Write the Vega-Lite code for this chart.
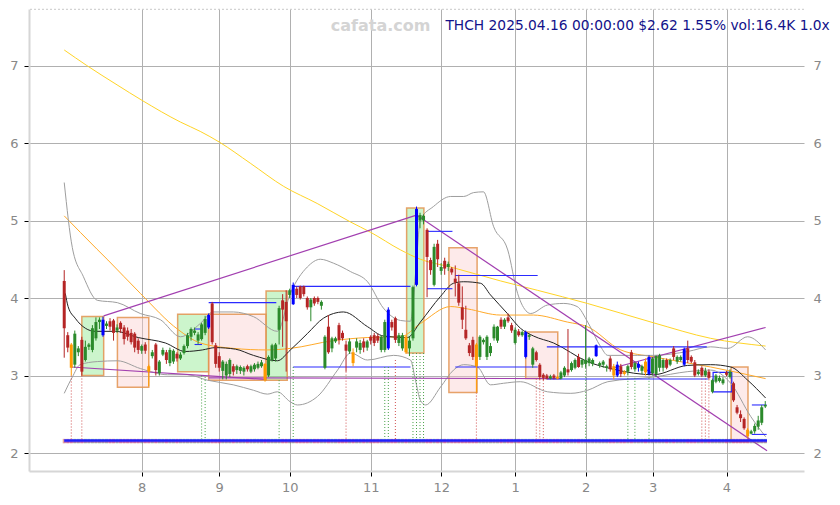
{
"$schema":"https://vega.github.io/schema/vega-lite/v6.json",
"width":775,"height":462,
"autosize":{"type":"none"},
"padding":{"left":29,"top":9,"right":36,"bottom":34},
"config":{"view":{"stroke":null},"font":"DejaVu Sans","scale":{"continuousPadding":0}},
"datasets":{
"candles":[
{"i":0,"o":4.22,"h":4.36,"l":3.23,"c":3.61,"k":"r"},
{"i":1,"o":3.52,"h":3.56,"l":3.30,"c":3.36,"k":"r"},
{"i":2,"o":3.40,"h":3.42,"l":3.00,"c":3.10,"k":"o"},
{"i":3,"o":3.14,"h":3.58,"l":3.10,"c":3.54,"k":"g"},
{"i":4,"o":3.30,"h":3.38,"l":3.25,"c":3.35,"k":"g"},
{"i":5,"o":3.46,"h":3.50,"l":3.00,"c":3.05,"k":"r"},
{"i":6,"o":3.20,"h":3.45,"l":3.18,"c":3.37,"k":"g"},
{"i":7,"o":3.37,"h":3.42,"l":3.33,"c":3.40,"k":"g"},
{"i":8,"o":3.33,"h":3.65,"l":3.30,"c":3.61,"k":"g"},
{"i":9,"o":3.48,"h":3.75,"l":3.45,"c":3.69,"k":"g"},
{"i":10,"o":3.69,"h":3.75,"l":3.60,"c":3.72,"k":"g"},
{"i":11,"o":3.72,"h":3.76,"l":3.50,"c":3.52,"k":"b"},
{"i":12,"o":3.64,"h":3.70,"l":3.60,"c":3.67,"k":"g"},
{"i":13,"o":3.70,"h":3.74,"l":3.58,"c":3.63,"k":"r"},
{"i":14,"o":3.71,"h":3.73,"l":3.45,"c":3.55,"k":"r"},
{"i":15,"o":3.58,"h":3.66,"l":3.55,"c":3.62,"k":"g"},
{"i":16,"o":3.68,"h":3.70,"l":3.55,"c":3.60,"k":"r"},
{"i":17,"o":3.62,"h":3.65,"l":3.40,"c":3.47,"k":"r"},
{"i":18,"o":3.58,"h":3.62,"l":3.45,"c":3.50,"k":"r"},
{"i":19,"o":3.55,"h":3.60,"l":3.40,"c":3.43,"k":"r"},
{"i":20,"o":3.54,"h":3.56,"l":3.30,"c":3.36,"k":"r"},
{"i":21,"o":3.45,"h":3.48,"l":3.28,"c":3.33,"k":"r"},
{"i":22,"o":3.32,"h":3.40,"l":3.28,"c":3.38,"k":"g"},
{"i":23,"o":3.40,"h":3.43,"l":3.28,"c":3.32,"k":"r"},
{"i":24,"o":3.12,"h":3.14,"l":2.86,"c":3.05,"k":"o"},
{"i":25,"o":3.25,"h":3.33,"l":3.22,"c":3.30,"k":"g"},
{"i":26,"o":3.40,"h":3.42,"l":3.00,"c":3.07,"k":"r"},
{"i":27,"o":3.03,"h":3.20,"l":3.00,"c":3.18,"k":"g"},
{"i":28,"o":3.27,"h":3.36,"l":3.25,"c":3.33,"k":"g"},
{"i":29,"o":3.30,"h":3.33,"l":3.15,"c":3.20,"k":"r"},
{"i":30,"o":3.16,"h":3.36,"l":3.12,"c":3.33,"k":"g"},
{"i":31,"o":3.18,"h":3.34,"l":3.15,"c":3.32,"k":"g"},
{"i":32,"o":3.28,"h":3.30,"l":3.18,"c":3.22,"k":"r"},
{"i":33,"o":3.22,"h":3.30,"l":3.20,"c":3.27,"k":"g"},
{"i":34,"o":3.29,"h":3.40,"l":3.27,"c":3.38,"k":"g"},
{"i":35,"o":3.38,"h":3.55,"l":3.35,"c":3.52,"k":"g"},
{"i":36,"o":3.50,"h":3.62,"l":3.45,"c":3.60,"k":"g"},
{"i":37,"o":3.55,"h":3.62,"l":3.52,"c":3.58,"k":"g"},
{"i":38,"o":3.45,"h":3.56,"l":3.40,"c":3.53,"k":"g"},
{"i":39,"o":3.47,"h":3.68,"l":3.45,"c":3.66,"k":"g"},
{"i":40,"o":3.55,"h":3.77,"l":3.52,"c":3.73,"k":"g"},
{"i":41,"o":3.62,"h":3.80,"l":3.60,"c":3.78,"k":"b"},
{"i":42,"o":3.93,"h":3.95,"l":3.40,"c":3.43,"k":"r"},
{"i":43,"o":3.39,"h":3.42,"l":3.10,"c":3.15,"k":"r"},
{"i":44,"o":3.25,"h":3.30,"l":3.05,"c":3.10,"k":"r"},
{"i":45,"o":3.06,"h":3.20,"l":2.95,"c":3.18,"k":"g"},
{"i":46,"o":3.00,"h":3.18,"l":2.95,"c":3.15,"k":"g"},
{"i":47,"o":3.02,"h":3.22,"l":2.98,"c":3.20,"k":"g"},
{"i":48,"o":3.12,"h":3.15,"l":3.00,"c":3.05,"k":"r"},
{"i":49,"o":3.07,"h":3.14,"l":3.02,"c":3.12,"k":"g"},
{"i":50,"o":3.06,"h":3.13,"l":3.02,"c":3.11,"k":"g"},
{"i":51,"o":3.05,"h":3.12,"l":3.00,"c":3.10,"k":"g"},
{"i":52,"o":3.12,"h":3.14,"l":3.05,"c":3.08,"k":"r"},
{"i":53,"o":3.05,"h":3.14,"l":3.03,"c":3.12,"k":"g"},
{"i":54,"o":3.08,"h":3.16,"l":3.05,"c":3.14,"k":"g"},
{"i":55,"o":3.10,"h":3.18,"l":3.08,"c":3.15,"k":"g"},
{"i":56,"o":3.12,"h":3.20,"l":3.10,"c":3.17,"k":"g"},
{"i":57,"o":3.15,"h":3.16,"l":2.92,"c":2.94,"k":"o"},
{"i":58,"o":3.00,"h":3.26,"l":2.98,"c":3.24,"k":"g"},
{"i":59,"o":3.20,"h":3.41,"l":3.18,"c":3.39,"k":"g"},
{"i":60,"o":3.22,"h":3.42,"l":3.18,"c":3.40,"k":"g"},
{"i":61,"o":3.59,"h":3.90,"l":3.40,"c":3.87,"k":"g"},
{"i":62,"o":3.97,"h":4.05,"l":3.37,"c":3.85,"k":"r"},
{"i":63,"o":3.95,"h":4.10,"l":3.05,"c":3.70,"k":"r"},
{"i":64,"o":4.04,"h":4.12,"l":4.00,"c":4.10,"k":"g"},
{"i":65,"o":4.17,"h":4.20,"l":3.91,"c":3.92,"k":"b"},
{"i":66,"o":4.12,"h":4.15,"l":4.00,"c":4.04,"k":"r"},
{"i":67,"o":4.15,"h":4.16,"l":3.98,"c":4.00,"k":"r"},
{"i":68,"o":4.15,"h":4.16,"l":4.02,"c":4.05,"k":"r"},
{"i":69,"o":4.00,"h":4.02,"l":3.85,"c":3.88,"k":"r"},
{"i":70,"o":3.88,"h":4.00,"l":3.70,"c":3.98,"k":"g"},
{"i":71,"o":4.00,"h":4.02,"l":3.90,"c":3.93,"k":"r"},
{"i":72,"o":4.00,"h":4.02,"l":3.92,"c":3.95,"k":"r"},
{"i":73,"o":3.90,"h":3.97,"l":3.85,"c":3.95,"k":"g"},
{"i":74,"o":3.10,"h":3.52,"l":3.08,"c":3.50,"k":"g"},
{"i":75,"o":3.63,"h":3.78,"l":3.28,"c":3.30,"k":"r"},
{"i":76,"o":3.35,"h":3.50,"l":3.30,"c":3.48,"k":"g"},
{"i":77,"o":3.44,"h":3.50,"l":3.42,"c":3.48,"k":"g"},
{"i":78,"o":3.65,"h":3.68,"l":3.40,"c":3.46,"k":"r"},
{"i":79,"o":3.55,"h":3.58,"l":3.45,"c":3.48,"k":"r"},
{"i":80,"o":3.40,"h":3.45,"l":3.05,"c":3.32,"k":"r"},
{"i":81,"o":3.31,"h":3.48,"l":3.28,"c":3.44,"k":"g"},
{"i":82,"o":3.30,"h":3.35,"l":3.12,"c":3.16,"k":"o"},
{"i":83,"o":3.36,"h":3.48,"l":3.30,"c":3.44,"k":"g"},
{"i":84,"o":3.33,"h":3.46,"l":3.28,"c":3.42,"k":"g"},
{"i":85,"o":3.44,"h":3.48,"l":3.30,"c":3.36,"k":"r"},
{"i":86,"o":3.36,"h":3.46,"l":3.32,"c":3.44,"k":"g"},
{"i":87,"o":3.50,"h":3.52,"l":3.40,"c":3.45,"k":"r"},
{"i":88,"o":3.52,"h":3.55,"l":3.38,"c":3.42,"k":"r"},
{"i":89,"o":3.51,"h":3.54,"l":3.42,"c":3.45,"k":"r"},
{"i":90,"o":3.33,"h":3.52,"l":3.30,"c":3.50,"k":"g"},
{"i":91,"o":3.33,"h":3.72,"l":3.30,"c":3.69,"k":"g"},
{"i":92,"o":3.85,"h":3.88,"l":3.33,"c":3.35,"k":"b"},
{"i":93,"o":3.69,"h":3.72,"l":3.58,"c":3.62,"k":"r"},
{"i":94,"o":3.74,"h":3.76,"l":3.42,"c":3.46,"k":"r"},
{"i":95,"o":3.42,"h":3.55,"l":3.38,"c":3.52,"k":"g"},
{"i":96,"o":3.35,"h":3.55,"l":3.32,"c":3.52,"k":"g"},
{"i":97,"o":3.50,"h":3.52,"l":3.28,"c":3.30,"k":"o"},
{"i":98,"o":3.35,"h":3.50,"l":3.25,"c":3.45,"k":"g"},
{"i":99,"o":3.48,"h":4.16,"l":3.45,"c":4.14,"k":"g"},
{"i":100,"o":4.17,"h":5.18,"l":4.15,"c":5.15,"k":"b"},
{"i":101,"o":5.00,"h":5.10,"l":4.90,"c":5.07,"k":"g"},
{"i":102,"o":5.00,"h":5.08,"l":4.95,"c":5.06,"k":"g"},
{"i":103,"o":4.88,"h":4.90,"l":4.01,"c":4.53,"k":"r"},
{"i":104,"o":4.49,"h":4.52,"l":4.30,"c":4.36,"k":"r"},
{"i":105,"o":4.17,"h":4.70,"l":4.15,"c":4.66,"k":"g"},
{"i":106,"o":4.70,"h":4.75,"l":4.40,"c":4.50,"k":"r"},
{"i":107,"o":4.35,"h":4.45,"l":4.30,"c":4.40,"k":"g"},
{"i":108,"o":4.48,"h":4.52,"l":4.30,"c":4.38,"k":"r"},
{"i":109,"o":4.40,"h":4.47,"l":4.35,"c":4.44,"k":"g"},
{"i":110,"o":4.38,"h":4.40,"l":4.30,"c":4.33,"k":"r"},
{"i":111,"o":4.25,"h":4.42,"l":4.02,"c":4.20,"k":"r"},
{"i":112,"o":4.19,"h":4.30,"l":3.90,"c":3.94,"k":"r"},
{"i":113,"o":3.88,"h":4.15,"l":3.60,"c":3.72,"k":"r"},
{"i":114,"o":3.59,"h":3.90,"l":3.46,"c":3.48,"k":"r"},
{"i":115,"o":3.39,"h":3.42,"l":3.25,"c":3.29,"k":"r"},
{"i":116,"o":3.46,"h":3.50,"l":3.20,"c":3.24,"k":"r"},
{"i":117,"o":3.40,"h":3.42,"l":2.78,"c":3.12,"k":"o"},
{"i":118,"o":3.24,"h":3.52,"l":3.20,"c":3.50,"k":"g"},
{"i":119,"o":3.43,"h":3.48,"l":3.40,"c":3.46,"k":"g"},
{"i":120,"o":3.24,"h":3.52,"l":3.20,"c":3.50,"k":"g"},
{"i":121,"o":3.29,"h":3.42,"l":3.25,"c":3.38,"k":"g"},
{"i":122,"o":3.48,"h":3.66,"l":3.45,"c":3.63,"k":"g"},
{"i":123,"o":3.45,"h":3.64,"l":3.42,"c":3.63,"k":"g"},
{"i":124,"o":3.72,"h":3.75,"l":3.60,"c":3.63,"k":"r"},
{"i":125,"o":3.63,"h":3.74,"l":3.60,"c":3.72,"k":"g"},
{"i":126,"o":3.75,"h":3.80,"l":3.68,"c":3.70,"k":"r"},
{"i":127,"o":3.65,"h":3.68,"l":3.55,"c":3.58,"k":"r"},
{"i":128,"o":3.42,"h":3.62,"l":3.40,"c":3.59,"k":"g"},
{"i":129,"o":3.57,"h":3.60,"l":3.50,"c":3.52,"k":"r"},
{"i":130,"o":3.52,"h":3.58,"l":3.50,"c":3.56,"k":"g"},
{"i":131,"o":3.56,"h":3.58,"l":3.22,"c":3.24,"k":"b"},
{"i":132,"o":3.50,"h":3.54,"l":3.46,"c":3.52,"k":"g"},
{"i":133,"o":3.14,"h":3.37,"l":3.10,"c":3.35,"k":"g"},
{"i":134,"o":3.30,"h":3.32,"l":3.18,"c":3.20,"k":"r"},
{"i":135,"o":3.14,"h":3.16,"l":2.95,"c":2.98,"k":"r"},
{"i":136,"o":3.01,"h":3.03,"l":2.94,"c":2.97,"k":"r"},
{"i":137,"o":3.00,"h":3.02,"l":2.95,"c":2.96,"k":"r"},
{"i":138,"o":2.96,"h":3.01,"l":2.95,"c":2.99,"k":"g"},
{"i":139,"o":3.00,"h":3.02,"l":2.95,"c":2.97,"k":"r"},
{"i":140,"o":2.98,"h":3.00,"l":2.95,"c":2.96,"k":"o"},
{"i":141,"o":2.96,"h":3.06,"l":2.95,"c":3.04,"k":"g"},
{"i":142,"o":3.00,"h":3.12,"l":2.98,"c":3.10,"k":"g"},
{"i":143,"o":3.08,"h":3.60,"l":3.00,"c":3.04,"k":"r"},
{"i":144,"o":3.07,"h":3.18,"l":3.05,"c":3.16,"k":"g"},
{"i":145,"o":3.10,"h":3.22,"l":3.08,"c":3.20,"k":"g"},
{"i":146,"o":3.24,"h":3.28,"l":3.10,"c":3.11,"k":"r"},
{"i":147,"o":3.14,"h":3.22,"l":3.10,"c":3.20,"k":"g"},
{"i":148,"o":3.15,"h":3.65,"l":3.10,"c":3.20,"k":"g"},
{"i":149,"o":3.16,"h":3.24,"l":3.12,"c":3.22,"k":"g"},
{"i":150,"o":3.15,"h":3.22,"l":3.12,"c":3.20,"k":"g"},
{"i":151,"o":3.39,"h":3.40,"l":3.24,"c":3.25,"k":"b"},
{"i":152,"o":3.13,"h":3.18,"l":3.10,"c":3.16,"k":"g"},
{"i":153,"o":3.14,"h":3.20,"l":3.10,"c":3.18,"k":"g"},
{"i":154,"o":3.10,"h":3.14,"l":3.05,"c":3.12,"k":"g"},
{"i":155,"o":3.22,"h":3.25,"l":3.05,"c":3.08,"k":"r"},
{"i":156,"o":3.12,"h":3.15,"l":2.95,"c":3.00,"k":"o"},
{"i":157,"o":3.14,"h":3.18,"l":2.98,"c":3.00,"k":"b"},
{"i":158,"o":3.12,"h":3.15,"l":2.98,"c":3.02,"k":"r"},
{"i":159,"o":3.05,"h":3.07,"l":3.00,"c":3.02,"k":"o"},
{"i":160,"o":3.05,"h":3.14,"l":3.00,"c":3.12,"k":"g"},
{"i":161,"o":3.30,"h":3.33,"l":3.08,"c":3.11,"k":"r"},
{"i":162,"o":3.08,"h":3.18,"l":3.05,"c":3.16,"k":"g"},
{"i":163,"o":3.10,"h":3.18,"l":3.05,"c":3.15,"k":"b"},
{"i":164,"o":3.06,"h":3.14,"l":3.02,"c":3.12,"k":"g"},
{"i":165,"o":3.18,"h":3.22,"l":3.00,"c":3.04,"k":"o"},
{"i":166,"o":3.24,"h":3.26,"l":3.00,"c":3.02,"k":"b"},
{"i":167,"o":3.03,"h":3.24,"l":3.00,"c":3.22,"k":"g"},
{"i":168,"o":3.02,"h":3.26,"l":2.98,"c":3.25,"k":"g"},
{"i":169,"o":3.10,"h":3.28,"l":3.05,"c":3.26,"k":"g"},
{"i":170,"o":3.10,"h":3.22,"l":3.05,"c":3.20,"k":"g"},
{"i":171,"o":3.20,"h":3.22,"l":3.08,"c":3.10,"k":"r"},
{"i":172,"o":3.14,"h":3.22,"l":3.12,"c":3.20,"k":"g"},
{"i":173,"o":3.35,"h":3.38,"l":3.20,"c":3.24,"k":"r"},
{"i":174,"o":3.18,"h":3.26,"l":3.15,"c":3.24,"k":"g"},
{"i":175,"o":3.20,"h":3.26,"l":3.18,"c":3.24,"k":"g"},
{"i":176,"o":3.34,"h":3.36,"l":3.12,"c":3.14,"k":"b"},
{"i":177,"o":3.35,"h":3.45,"l":3.16,"c":3.20,"k":"r"},
{"i":178,"o":3.24,"h":3.26,"l":3.16,"c":3.18,"k":"r"},
{"i":179,"o":3.17,"h":3.20,"l":2.98,"c":3.00,"k":"r"},
{"i":180,"o":3.02,"h":3.08,"l":3.00,"c":3.05,"k":"g"},
{"i":181,"o":3.10,"h":3.12,"l":2.98,"c":3.00,"k":"r"},
{"i":182,"o":3.00,"h":3.10,"l":2.98,"c":3.06,"k":"g"},
{"i":183,"o":3.05,"h":3.08,"l":2.95,"c":2.97,"k":"r"},
{"i":184,"o":2.79,"h":2.96,"l":2.77,"c":2.94,"k":"g"},
{"i":185,"o":2.92,"h":3.02,"l":2.90,"c":3.00,"k":"g"},
{"i":186,"o":2.93,"h":3.00,"l":2.91,"c":2.97,"k":"g"},
{"i":187,"o":2.90,"h":2.98,"l":2.88,"c":2.95,"k":"g"},
{"i":188,"o":3.04,"h":3.06,"l":2.99,"c":3.01,"k":"r"},
{"i":189,"o":2.98,"h":3.08,"l":2.96,"c":3.05,"k":"g"},
{"i":190,"o":2.90,"h":2.92,"l":2.66,"c":2.68,"k":"r"},
{"i":191,"o":2.59,"h":2.62,"l":2.50,"c":2.52,"k":"r"},
{"i":192,"o":2.50,"h":2.55,"l":2.40,"c":2.45,"k":"r"},
{"i":193,"o":2.44,"h":2.46,"l":2.30,"c":2.32,"k":"r"},
{"i":194,"o":2.30,"h":2.32,"l":2.20,"c":2.22,"k":"o"},
{"i":195,"o":2.25,"h":2.30,"l":2.24,"c":2.28,"k":"g"},
{"i":196,"o":2.28,"h":2.38,"l":2.25,"c":2.35,"k":"g"},
{"i":197,"o":2.34,"h":2.48,"l":2.30,"c":2.42,"k":"g"},
{"i":198,"o":2.39,"h":2.62,"l":2.36,"c":2.59,"k":"g"},
{"i":199,"o":2.60,"h":2.67,"l":2.58,"c":2.62,"k":"g"}
],
"lines":[
{"s":"y","i":0,"v":7.20},{"s":"y","i":6.4,"v":7.00},{"s":"y","i":15,"v":6.75},{"s":"y","i":22.1,"v":6.55},{"s":"y","i":33,"v":6.27},{"s":"y","i":38.6,"v":6.15},{"s":"y","i":44.1,"v":6.01},{"s":"y","i":52.8,"v":5.74},{"s":"y","i":62.3,"v":5.44},{"s":"y","i":71.8,"v":5.22},{"s":"y","i":81.3,"v":4.98},{"s":"y","i":86.9,"v":4.85},{"s":"y","i":95.5,"v":4.62},{"s":"y","i":101.1,"v":4.50},{"s":"y","i":109.7,"v":4.40},{"s":"y","i":123.9,"v":4.22},{"s":"y","i":134.3,"v":4.10},{"s":"y","i":148.5,"v":3.93},{"s":"y","i":167.3,"v":3.68},{"s":"y","i":183.5,"v":3.48},{"s":"y","i":199.1,"v":3.38},
{"s":"o","i":0,"v":5.06},{"s":"o","i":9.3,"v":4.63},{"s":"o","i":12.4,"v":4.49},{"s":"o","i":21.6,"v":4.06},{"s":"o","i":32.4,"v":3.59},{"s":"o","i":38.6,"v":3.42},{"s":"o","i":48,"v":3.35},{"s":"o","i":57.6,"v":3.33},{"s":"o","i":64.2,"v":3.35},{"s":"o","i":76.4,"v":3.45},{"s":"o","i":86,"v":3.49},{"s":"o","i":95.5,"v":3.50},{"s":"o","i":101.1,"v":3.67},{"s":"o","i":109.7,"v":3.89},{"s":"o","i":114.4,"v":3.86},{"s":"o","i":123.9,"v":3.78},{"s":"o","i":133.2,"v":3.78},{"s":"o","i":142.8,"v":3.69},{"s":"o","i":148.5,"v":3.63},{"s":"o","i":158,"v":3.33},{"s":"o","i":167.3,"v":3.24},{"s":"o","i":183.5,"v":3.11},{"s":"o","i":199.1,"v":2.96},
{"s":"k","i":0.3,"v":4.06},{"s":"k","i":1.1,"v":3.89},{"s":"k","i":3.1,"v":3.74},{"s":"k","i":6,"v":3.61},{"s":"k","i":8.8,"v":3.57},{"s":"k","i":14.5,"v":3.57},{"s":"k","i":21,"v":3.49},{"s":"k","i":28.7,"v":3.42},{"s":"k","i":34.4,"v":3.31},{"s":"k","i":39.2,"v":3.33},{"s":"k","i":42.9,"v":3.36},{"s":"k","i":48.6,"v":3.34},{"s":"k","i":53.7,"v":3.26},{"s":"k","i":60.5,"v":3.19},{"s":"k","i":64.2,"v":3.33},{"s":"k","i":69,"v":3.54},{"s":"k","i":73.6,"v":3.74},{"s":"k","i":79.3,"v":3.82},{"s":"k","i":86.1,"v":3.63},{"s":"k","i":90.6,"v":3.51},{"s":"k","i":97.4,"v":3.49},{"s":"k","i":101.1,"v":3.69},{"s":"k","i":106.8,"v":4.02},{"s":"k","i":110.5,"v":4.19},{"s":"k","i":113.4,"v":4.21},{"s":"k","i":118.2,"v":4.19},{"s":"k","i":121,"v":4.04},{"s":"k","i":125.8,"v":3.80},{"s":"k","i":129.5,"v":3.61},{"s":"k","i":133.2,"v":3.51},{"s":"k","i":138.9,"v":3.42},{"s":"k","i":148.5,"v":3.18},{"s":"k","i":156,"v":3.08},{"s":"k","i":167.3,"v":3.01},{"s":"k","i":176.9,"v":3.13},{"s":"k","i":183.5,"v":3.14},{"s":"k","i":189.2,"v":3.11},{"s":"k","i":194,"v":2.94},{"s":"k","i":199.1,"v":2.71},
{"s":"bu","i":0,"v":5.49},{"s":"bu","i":2.3,"v":4.65},{"s":"bu","i":5.4,"v":4.28},{"s":"bu","i":9.4,"v":3.97},{"s":"bu","i":15.1,"v":3.94},{"s":"bu","i":21.6,"v":3.80},{"s":"bu","i":27.3,"v":3.72},{"s":"bu","i":33,"v":3.50},{"s":"bu","i":38.6,"v":3.67},{"s":"bu","i":42.3,"v":3.82},{"s":"bu","i":48,"v":3.82},{"s":"bu","i":53.7,"v":3.76},{"s":"bu","i":60.5,"v":3.57},{"s":"bu","i":64.2,"v":4.06},{"s":"bu","i":69,"v":4.40},{"s":"bu","i":72.7,"v":4.50},{"s":"bu","i":76.4,"v":4.45},{"s":"bu","i":81.3,"v":4.34},{"s":"bu","i":86.1,"v":4.21},{"s":"bu","i":90.6,"v":3.87},{"s":"bu","i":95.5,"v":3.71},{"s":"bu","i":98.3,"v":3.70},{"s":"bu","i":99.7,"v":4.30},{"s":"bu","i":101.1,"v":5.01},{"s":"bu","i":104.8,"v":5.18},{"s":"bu","i":109.7,"v":5.31},{"s":"bu","i":113.4,"v":5.31},{"s":"bu","i":116.2,"v":5.36},{"s":"bu","i":119,"v":5.37},{"s":"bu","i":121.9,"v":4.92},{"s":"bu","i":125.9,"v":4.62},{"s":"bu","i":128.7,"v":4.06},{"s":"bu","i":131.4,"v":3.82},{"s":"bu","i":132.4,"v":3.80},{"s":"bu","i":137.2,"v":3.91},{"s":"bu","i":141.8,"v":3.93},{"s":"bu","i":145.6,"v":3.89},{"s":"bu","i":148.6,"v":3.69},{"s":"bu","i":152.3,"v":3.37},{"s":"bu","i":154.3,"v":3.26},{"s":"bu","i":162.8,"v":3.26},{"s":"bu","i":167.3,"v":3.26},{"s":"bu","i":177,"v":3.31},{"s":"bu","i":183.5,"v":3.37},{"s":"bu","i":188.4,"v":3.35},{"s":"bu","i":194,"v":3.50},{"s":"bu","i":199.1,"v":3.33},
{"s":"bl","i":0,"v":2.77},{"s":"bl","i":2.3,"v":2.98},{"s":"bl","i":4.5,"v":3.14},{"s":"bl","i":9.4,"v":3.18},{"s":"bl","i":15.1,"v":3.19},{"s":"bl","i":21.6,"v":3.09},{"s":"bl","i":29.3,"v":3.01},{"s":"bl","i":34.9,"v":3.01},{"s":"bl","i":40.6,"v":2.94},{"s":"bl","i":48,"v":2.88},{"s":"bl","i":53.7,"v":2.81},{"s":"bl","i":57.7,"v":2.76},{"s":"bl","i":60.5,"v":2.79},{"s":"bl","i":64.2,"v":2.66},{"s":"bl","i":66.2,"v":2.62},{"s":"bl","i":71.9,"v":2.73},{"s":"bl","i":77.6,"v":3.07},{"s":"bl","i":81.3,"v":3.29},{"s":"bl","i":86.1,"v":3.20},{"s":"bl","i":93.5,"v":3.26},{"s":"bl","i":98.3,"v":3.20},{"s":"bl","i":99.7,"v":2.94},{"s":"bl","i":101.1,"v":2.68},{"s":"bl","i":102.6,"v":2.62},{"s":"bl","i":106.8,"v":2.85},{"s":"bl","i":110.5,"v":3.07},{"s":"bl","i":113.4,"v":3.14},{"s":"bl","i":117.3,"v":3.11},{"s":"bl","i":121,"v":2.88},{"s":"bl","i":124.7,"v":2.90},{"s":"bl","i":129.5,"v":2.92},{"s":"bl","i":137.2,"v":2.79},{"s":"bl","i":143.8,"v":2.77},{"s":"bl","i":148.6,"v":2.81},{"s":"bl","i":154.3,"v":2.92},{"s":"bl","i":167.3,"v":2.98},{"s":"bl","i":177,"v":3.05},{"s":"bl","i":183.5,"v":3.07},{"s":"bl","i":189.2,"v":2.90},{"s":"bl","i":194.9,"v":2.47},{"s":"bl","i":199.1,"v":2.21}
],
"segs":[
{"t":"trend","i1":11.2,"i2":100,"p1":3.77,"p2":5.07},
{"t":"trend","i1":100,"i2":199.5,"p1":5.07,"p2":2.03},
{"t":"trend","i1":2,"i2":57,"p1":3.11,"p2":2.95},
{"t":"trend","i1":41,"i2":141,"p1":2.97,"p2":2.96},
{"t":"trend","i1":156,"i2":199.1,"p1":3.10,"p2":3.62},
{"t":"level","i1":41,"i2":60.2,"p1":3.94,"p2":3.94},
{"t":"level","i1":65,"i2":98.3,"p1":4.15,"p2":4.15},
{"t":"level","i1":65,"i2":98.3,"p1":3.11,"p2":3.11},
{"t":"level","i1":103,"i2":110.2,"p1":4.86,"p2":4.86},
{"t":"level","i1":103,"i2":110.2,"p1":4.12,"p2":4.12},
{"t":"level","i1":111,"i2":134.4,"p1":4.29,"p2":4.29},
{"t":"level","i1":111,"i2":134.4,"p1":3.11,"p2":3.11},
{"t":"level","i1":137,"i2":182.4,"p1":3.37,"p2":3.37},
{"t":"level","i1":137,"i2":182.7,"p1":2.955,"p2":2.955},
{"t":"level","i1":195.2,"i2":199.4,"p1":2.62,"p2":2.62},
{"t":"level","i1":195.2,"i2":199.4,"p1":2.24,"p2":2.24},
{"t":"level","i1":37,"i2":39.1,"p1":3.60,"p2":3.60},
{"t":"level","i1":37,"i2":39.1,"p1":3.40,"p2":3.40},
{"t":"basep","i1":0,"i2":199.5,"p1":2.142,"p2":2.142},
{"t":"base","i1":0,"i2":199.5,"p1":2.161,"p2":2.161}
],
"boxes":[
{"f":"g","i1":5.0,"i2":11.2,"p1":3.0,"p2":3.76},
{"f":"r","i1":15.1,"i2":24,"p1":2.85,"p2":3.75},
{"f":"g","i1":32.2,"i2":41,"p1":3.05,"p2":3.79},
{"f":"r","i1":41,"i2":57.3,"p1":2.94,"p2":3.79},
{"f":"g","i1":57.3,"i2":63.3,"p1":2.94,"p2":4.09},
{"f":"g","i1":97.2,"i2":102.1,"p1":3.29,"p2":5.16},
{"f":"r","i1":109.2,"i2":117.2,"p1":2.78,"p2":4.65},
{"f":"r","i1":131,"i2":140.1,"p1":2.96,"p2":3.56},
{"f":"r","i1":189.3,"i2":194.1,"p1":2.15,"p2":3.11}
],
"bluebox":[{"i1":184.2,"i2":189.5,"p1":2.79,"p2":3.04}],
"dots":[
{"i":2,"p":3.00,"c":"r"},{"i":5,"p":3.00,"c":"r"},{"i":39,"p":3.00,"c":"g"},{"i":40,"p":2.98,"c":"g"},{"i":61,"p":2.94,"c":"g"},{"i":65,"p":3.11,"c":"g"},{"i":80,"p":3.05,"c":"r"},{"i":91,"p":3.11,"c":"g"},{"i":92,"p":3.11,"c":"g"},{"i":94,"p":3.20,"c":"r"},{"i":99,"p":3.29,"c":"g"},{"i":100,"p":3.29,"c":"g"},{"i":101,"p":3.29,"c":"g"},{"i":102,"p":3.29,"c":"g"},{"i":117,"p":2.78,"c":"r"},{"i":134,"p":2.96,"c":"r"},{"i":135,"p":2.95,"c":"r"},{"i":136,"p":2.94,"c":"r"},{"i":148,"p":3.10,"c":"g"},{"i":160,"p":2.97,"c":"g"},{"i":162,"p":2.97,"c":"g"},{"i":166,"p":2.97,"c":"g"},{"i":181,"p":2.96,"c":"r"},{"i":182,"p":2.96,"c":"r"},{"i":183,"p":2.95,"c":"r"}
]
},
"resolve":{"axis":{"x":"independent","y":"independent"},"scale":{"color":"independent"}},
"layer":[
{"data":{"name":"boxes"},
 "mark":{"type":"rect","fillOpacity":0.4,"stroke":"#e39350","strokeOpacity":0.85,"strokeWidth":1.5},
 "encoding":{
  "x":{"field":"i1","type":"quantitative","scale":{"domain":[-10,210],"nice":false,"zero":false,"padding":0},"axis":null},
  "x2":{"field":"i2"},
  "y":{"field":"p1","type":"quantitative","scale":{"domain":[1.768,7.729],"nice":false,"zero":false,"padding":0},"axis":null},
  "y2":{"field":"p2"},
  "fill":{"field":"f","type":"nominal","scale":{"domain":["g","r"],"range":["#7fe67f","#facaca"]},"legend":null}}},
{"data":{"name":"bluebox"},
 "mark":{"type":"rect","fill":null,"stroke":"#2020ff","strokeWidth":1.2},
 "encoding":{
  "x":{"field":"i1","type":"quantitative","scale":{"domain":[-10,210],"nice":false,"zero":false,"padding":0},"axis":null},
  "x2":{"field":"i2"},
  "y":{"field":"p1","type":"quantitative","scale":{"domain":[1.768,7.729],"nice":false,"zero":false,"padding":0},"axis":null},
  "y2":{"field":"p2"}}},
{"data":{"name":"lines"},
 "mark":{"type":"line","strokeWidth":1,"interpolate":"monotone"},
 "encoding":{
  "x":{"field":"i","type":"quantitative","scale":{"domain":[-10,210],"nice":false,"zero":false,"padding":0},"axis":null},
  "y":{"field":"v","type":"quantitative","scale":{"domain":[1.768,7.729],"nice":false,"zero":false,"padding":0},"axis":null},
  "color":{"field":"s","type":"nominal","scale":{"domain":["bu","bl","y","o","k"],"range":["#9e9e9e","#9e9e9e","#ffd426","#ffaa2a","#222222"]},"legend":null}}},
{"data":{"name":"segs"},
 "transform":[{"filter":"datum.t=='trend'"}],
 "mark":{"type":"rule","color":"#a23fb0","strokeWidth":1.2},
 "encoding":{
  "x":{"field":"i1","type":"quantitative","scale":{"domain":[-10,210],"nice":false,"zero":false,"padding":0},"axis":null},
  "x2":{"field":"i2"},
  "y":{"field":"p1","type":"quantitative","scale":{"domain":[1.768,7.729],"nice":false,"zero":false,"padding":0},"axis":null},
  "y2":{"field":"p2"}}},
{"data":{"name":"segs"},
 "transform":[{"filter":"datum.t=='level'"}],
 "mark":{"type":"rule","color":"#2b2bff","strokeWidth":1.1},
 "encoding":{
  "x":{"field":"i1","type":"quantitative","scale":{"domain":[-10,210],"nice":false,"zero":false,"padding":0},"axis":null},
  "x2":{"field":"i2"},
  "y":{"field":"p1","type":"quantitative","scale":{"domain":[1.768,7.729],"nice":false,"zero":false,"padding":0},"axis":null}}},
{"data":{"name":"candles"},
 "mark":{"type":"bar","size":3,"opacity":0.45},
 "encoding":{
  "x":{"field":"i","type":"quantitative","scale":{"domain":[-10,210],"nice":false,"zero":false,"padding":0},"axis":null},
  "y":{"datum":2.125,"type":"quantitative","scale":{"domain":[1.768,7.729],"nice":false,"zero":false,"padding":0},"axis":null},
  "y2":{"datum":2.183},
  "color":{"field":"k","type":"nominal","scale":{"domain":["g","r","o","b"],"range":["#3a9a3a","#c03030","#c03030","#3a9a3a"]},"legend":null}}},
{"data":{"name":"segs"},
 "transform":[{"filter":"datum.t=='basep'"}],
 "mark":{"type":"rule","color":"#a23fb0","strokeWidth":1.5,"opacity":0.7},
 "encoding":{
  "x":{"field":"i1","type":"quantitative","scale":{"domain":[-10,210],"nice":false,"zero":false,"padding":0},"axis":null},
  "x2":{"field":"i2"},
  "y":{"field":"p1","type":"quantitative","scale":{"domain":[1.768,7.729],"nice":false,"zero":false,"padding":0},"axis":null}}},
{"data":{"name":"segs"},
 "transform":[{"filter":"datum.t=='base'"}],
 "mark":{"type":"rule","color":"#2020ff","strokeWidth":2.5},
 "encoding":{
  "x":{"field":"i1","type":"quantitative","scale":{"domain":[-10,210],"nice":false,"zero":false,"padding":0},"axis":null},
  "x2":{"field":"i2"},
  "y":{"field":"p1","type":"quantitative","scale":{"domain":[1.768,7.729],"nice":false,"zero":false,"padding":0},"axis":null}}},
{"data":{"name":"dots"},
 "mark":{"type":"rule","strokeWidth":1,"strokeDash":[1,2]},
 "encoding":{
  "x":{"field":"i","type":"quantitative","scale":{"domain":[-10,210],"nice":false,"zero":false,"padding":0},"axis":null},
  "y":{"field":"p","type":"quantitative","scale":{"domain":[1.768,7.729],"nice":false,"zero":false,"padding":0},"axis":null},
  "y2":{"datum":2.18},
  "color":{"field":"c","type":"nominal","scale":{"domain":["r","g"],"range":["#d05050","#45a045"]},"legend":null}}},
{"data":{"name":"candles"},
 "mark":{"type":"rule","strokeWidth":1},
 "encoding":{
  "x":{"field":"i","type":"quantitative","scale":{"domain":[-10,210],"nice":false,"zero":false,"padding":0},
   "axis":{"title":null,"values":[22,44,64,87,107,128,148,167,188],
    "labelExpr":"datum.value==22?'8':datum.value==44?'9':datum.value==64?'10':datum.value==87?'11':datum.value==107?'12':datum.value==128?'1':datum.value==148?'2':datum.value==167?'3':'4'",
    "grid":true,"gridColor":"#b0b0b0","gridWidth":1,"domain":true,"domainColor":"#d6d6d6","domainWidth":2,
    "ticks":true,"tickColor":"#000000","tickSize":5,"labelColor":"#888888","labelFontSize":13,"labelFont":"DejaVu Sans","labelPadding":5}},
  "y":{"field":"l","type":"quantitative","scale":{"domain":[1.768,7.729],"nice":false,"zero":false,"padding":0},
   "axis":{"title":null,"orient":"left","values":[2,3,4,5,6,7],
    "grid":true,"gridColor":"#b0b0b0","gridWidth":1,"domain":true,"domainColor":"#d6d6d6","domainWidth":2,
    "ticks":true,"tickColor":"#000000","tickSize":5,"labelColor":"#888888","labelFontSize":13,"labelFont":"DejaVu Sans","labelPadding":6}},
  "y2":{"field":"h"},
  "color":{"field":"k","type":"nominal","scale":{"domain":["g","r","o","b"],"range":["#2b8a2b","#b52525","#ff9a00","#0000ff"]},"legend":null}}},
{"data":{"name":"candles"},
 "mark":{"type":"bar","size":3},
 "encoding":{
  "x":{"field":"i","type":"quantitative","scale":{"domain":[-10,210],"nice":false,"zero":false,"padding":0},"axis":null},
  "y":{"field":"o","type":"quantitative","scale":{"domain":[1.768,7.729],"nice":false,"zero":false,"padding":0},
   "axis":{"title":null,"orient":"right","values":[2,3,4,5,6,7],"grid":false,"domain":false,
    "ticks":false,"labelColor":"#888888","labelFontSize":13,"labelFont":"DejaVu Sans","labelPadding":9}},
  "y2":{"field":"c"},
  "color":{"field":"k","type":"nominal","scale":{"domain":["g","r","o","b"],"range":["#2b8a2b","#b52525","#ff9a00","#0000ff"]},"legend":null}}},
{"data":{"values":[{"t":"top"}]},
 "mark":{"type":"rule","color":"#c8c8c8","strokeDash":[2,2],"strokeWidth":1},
 "encoding":{"y":{"datum":7.725,"type":"quantitative","scale":{"domain":[1.768,7.729],"nice":false,"zero":false,"padding":0},"axis":null}}},
{"data":{"values":[{"t":"cafata.com"}]},
 "mark":{"type":"text","font":"DejaVu Sans","fontWeight":"bold","fontSize":16,"color":"#d4d4d4","align":"center","baseline":"middle"},
 "encoding":{
  "x":{"datum":89.8,"type":"quantitative","scale":{"domain":[-10,210],"nice":false,"zero":false,"padding":0},"axis":null},
  "y":{"datum":7.51,"type":"quantitative","scale":{"domain":[1.768,7.729],"nice":false,"zero":false,"padding":0},"axis":null},
  "text":{"field":"t"}}},
{"data":{"values":[{"t":"THCH 2025.04.16 00:00:00 $2.62 1.55% vol:16.4K 1.0x"}]},
 "mark":{"type":"text","font":"DejaVu Sans","fontSize":13.8,"color":"#12128a","align":"left","baseline":"middle"},
 "encoding":{
  "x":{"datum":108.2,"type":"quantitative","scale":{"domain":[-10,210],"nice":false,"zero":false,"padding":0},"axis":null},
  "y":{"datum":7.51,"type":"quantitative","scale":{"domain":[1.768,7.729],"nice":false,"zero":false,"padding":0},"axis":null},
  "text":{"field":"t"}}}
]
}
